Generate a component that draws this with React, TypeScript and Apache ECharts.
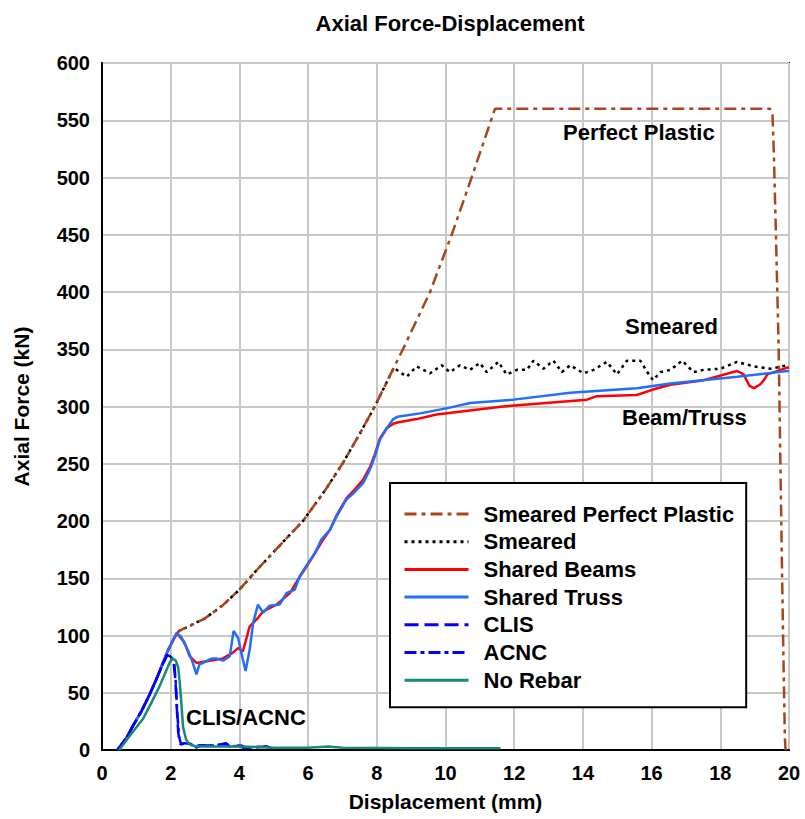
import React, { useEffect, useRef } from "react";
import * as echarts from "echarts";

type Pt = [number, number];

const seriesNames = [
  "Smeared Perfect Plastic",
  "Smeared",
  "Shared Beams",
  "Shared Truss",
  "CLIS",
  "ACNC",
  "No Rebar",
];

const commonRise: Pt[] = [
  [0.45, 0], [0.7, 10], [0.9, 21], [1.15, 34], [1.38, 48], [1.6, 63],
  [1.77, 76], [1.92, 87], [2.02, 93], [2.18, 102],
];

const plasticRise: Pt[] = [
  [2.25, 104], [3.0, 115], [3.5, 126], [4.0, 140], [4.5, 157], [5.0, 173],
  [5.5, 189], [5.85, 200], [6.5, 227], [7.0, 250], [7.5, 276], [7.94, 300],
  [8.35, 325],
];

const perfectPlastic: Pt[] = [
  ...commonRise, ...plasticRise, [8.76, 350], [9.55, 400], [10.18, 450],
  [10.76, 500], [11.1, 530], [11.44, 560], [19.45, 560], [19.52, 555],
  [19.56, 520], [19.62, 450], [19.7, 350], [19.75, 250], [19.8, 150],
  [19.85, 60], [19.88, 10], [19.9, 0],
];

const smeared: Pt[] = [
  ...commonRise, ...plasticRise, [8.5, 334], [8.58, 332], [8.87, 326],
  [9.16, 335], [9.55, 329], [9.89, 336], [10.13, 330], [10.42, 336],
  [10.71, 332], [11.0, 338], [11.2, 330], [11.54, 339], [11.78, 328],
  [12.08, 332], [12.37, 332], [12.56, 340], [12.85, 333], [13.14, 340],
  [13.39, 330], [13.63, 336], [14.02, 329], [14.31, 332], [14.7, 339],
  [14.99, 328], [15.28, 340], [15.67, 340], [15.96, 326], [16.05, 323],
  [16.25, 330], [16.55, 332], [16.89, 340], [17.22, 330], [17.52, 332],
  [18.0, 333], [18.49, 339], [18.97, 335], [19.46, 333], [19.95, 336],
  [20, 336],
];

const sharedBeams: Pt[] = [
  ...commonRise, [2.4, 94], [2.55, 82], [2.75, 76], [3.13, 78], [3.52, 80],
  [3.81, 85], [3.96, 89], [4.1, 86], [4.3, 108], [4.5, 114], [4.69, 121],
  [5.08, 127], [5.47, 137], [5.71, 149], [5.95, 160], [6.2, 172], [6.4, 182],
  [6.63, 192], [6.83, 205], [7.12, 220], [7.31, 226], [7.6, 236], [7.8, 247],
  [7.94, 258], [8.09, 272], [8.29, 281], [8.48, 285], [8.6, 286], [9.16, 289],
  [9.74, 293], [11.68, 300], [14.12, 306], [14.4, 309], [15.57, 310],
  [16.06, 315], [16.55, 319], [17.52, 323], [18.49, 331], [18.68, 328],
  [18.85, 318], [18.98, 316], [19.15, 319], [19.27, 323], [19.37, 328],
  [19.95, 334], [20, 334],
];

const sharedTruss: Pt[] = [
  ...commonRise, [2.3, 99], [2.47, 89], [2.6, 80], [2.75, 66], [2.84, 75],
  [2.94, 76], [3.13, 79], [3.23, 80], [3.33, 80], [3.52, 78], [3.72, 82],
  [3.83, 104], [3.96, 98], [4.1, 79], [4.18, 69], [4.3, 88], [4.4, 111],
  [4.54, 127], [4.69, 120], [4.88, 126], [5.17, 127], [5.37, 137],
  [5.61, 140], [5.76, 152], [5.95, 161], [6.2, 172], [6.39, 184],
  [6.63, 192], [6.83, 204], [7.12, 219], [7.31, 224], [7.6, 233], [7.8, 245],
  [7.94, 256], [8.09, 271], [8.29, 281], [8.48, 289], [8.6, 291], [9.26, 294],
  [10.13, 299], [10.71, 303], [11.98, 306], [13.63, 312], [15.57, 316],
  [16.55, 320], [18.49, 326], [19.95, 331], [20, 331],
];

const clis: Pt[] = [
  [0.45, 0], [0.7, 10], [0.9, 21], [1.15, 34], [1.38, 48], [1.6, 63],
  [1.77, 75], [1.89, 83], [1.98, 82], [2.08, 78], [2.14, 60], [2.18, 35],
  [2.22, 15], [2.28, 5], [2.4, 6], [2.6, 5], [2.7, 2], [2.8, 4], [3.2, 4],
  [3.6, 5], [3.7, 3], [4.0, 4], [4.1, 2], [4.8, 3], [5.0, 1],
];

const acnc: Pt[] = [
  [0.45, 0], [0.7, 10], [0.9, 21], [1.15, 34], [1.38, 48], [1.6, 63],
  [1.77, 75], [1.9, 83], [2.0, 82], [2.1, 77], [2.15, 58], [2.19, 33],
  [2.24, 12], [2.3, 5], [2.45, 6], [2.65, 5], [2.75, 2], [2.85, 4],
  [3.3, 4], [3.6, 6], [3.75, 3], [4.05, 4], [4.2, 2], [4.8, 3], [5.0, 1],
];

const noRebar: Pt[] = [
  [0.5, 0], [0.8, 12], [1.19, 27], [1.45, 42], [1.68, 56], [1.85, 68],
  [1.98, 77], [2.06, 80], [2.15, 78], [2.22, 72], [2.26, 60], [2.31, 41],
  [2.36, 20], [2.45, 9], [2.55, 5], [2.75, 3], [3.0, 3], [3.5, 3], [4.0, 3],
  [5.0, 2], [6.0, 2], [6.6, 3], [7.0, 2], [9.0, 1.5], [11.6, 1.5],
];

const seriesData: Pt[][] = [perfectPlastic, smeared, sharedBeams, sharedTruss, clis, acnc, noRebar];
const seriesColors = ["#a8461a", "#000000", "#ff0000", "#1e6eff", "#0000ff", "#0000ff", "#17897c"];
const seriesDash: any[] = [[12, 5, 4, 5], [3, 4], "solid", "solid", [14, 6], [12, 4, 4, 4], "solid"];
const seriesZ = [4, 3, 5, 6, 7, 8, 9];

const annotations = [
  { text: "Perfect Plastic", x: 563, y: 133 },
  { text: "Smeared", x: 625, y: 327 },
  { text: "Beam/Truss", x: 622, y: 418 },
  { text: "CLIS/ACNC", x: 186, y: 718 },
];

const FONT = "'Liberation Sans', Arial, sans-serif";

export default function App() {
  const ref = useRef<HTMLDivElement>(null);
  useEffect(() => {
    document.body.style.margin = "0";
    const chart = echarts.init(ref.current!, null, { renderer: "svg" });
    chart.setOption({
      animation: false,
      backgroundColor: "#ffffff",
      textStyle: { fontFamily: FONT },
      title: {
        text: "Axial Force-Displacement",
        left: 445,
        textAlign: "center",
        top: 7,
        textStyle: { fontSize: 22, fontWeight: "bold", color: "#000", fontFamily: FONT },
      },
      grid: {
        left: 102,
        right: 16,
        top: 63,
        bottom: 69,
        show: true,
        borderColor: "#000",
        borderWidth: 2,
        backgroundColor: "#fff",
      },
      legend: {
        orient: "vertical",
        left: 390,
        top: 483,
        data: seriesNames,
        itemWidth: 64,
        itemHeight: 16,
        itemGap: 5.7,
        padding: [20, 12, 16, 13],
        backgroundColor: "#fff",
        borderColor: "#000",
        borderWidth: 2,
        borderRadius: 0,
        itemStyle: { opacity: 0, borderWidth: 0 },
        lineStyle: { width: 3 },
        textStyle: { fontSize: 22, fontWeight: "bold", color: "#000", padding: [0, 0, 0, 10], fontFamily: FONT },
      },
      xAxis: {
        type: "value",
        min: 0,
        max: 20,
        interval: 2,
        name: "Displacement (mm)",
        nameLocation: "middle",
        nameGap: 41,
        nameTextStyle: { fontSize: 21, fontWeight: "bold", color: "#000" },
        axisLine: { show: true, lineStyle: { color: "#000", width: 2 } },
        axisTick: { show: false },
        axisLabel: { fontSize: 20, fontWeight: "bold", color: "#000", margin: 13 },
        splitLine: { show: true, lineStyle: { color: "#c8c8c8", width: 2 } },
      },
      yAxis: {
        type: "value",
        min: 0,
        max: 600,
        interval: 50,
        name: "Axial Force (kN)",
        nameLocation: "middle",
        nameGap: 70,
        nameTextStyle: { fontSize: 21, fontWeight: "bold", color: "#000" },
        axisLine: { show: true, lineStyle: { color: "#000", width: 2 } },
        axisTick: { show: false },
        axisLabel: { fontSize: 20, fontWeight: "bold", color: "#000", margin: 12 },
        splitLine: { show: true, lineStyle: { color: "#c8c8c8", width: 2 } },
      },
      graphic: annotations.map((a) => ({
        type: "text",
        left: a.x,
        top: a.y - 12,
        style: { text: a.text, fontSize: 22, fontWeight: "bold", fill: "#000", fontFamily: FONT },
        z: 10,
      })),
      series: seriesNames.map((name, i) => ({
        name,
        type: "line",
        data: seriesData[i],
        symbol: "none",
        lineStyle: { color: seriesColors[i], width: 2.5, type: seriesDash[i] },
        itemStyle: { color: seriesColors[i] },
        z: seriesZ[i],
      })),
    });
    return () => chart.dispose();
  }, []);
  return <div ref={ref} style={{ width: 805, height: 819 }} />;
}
